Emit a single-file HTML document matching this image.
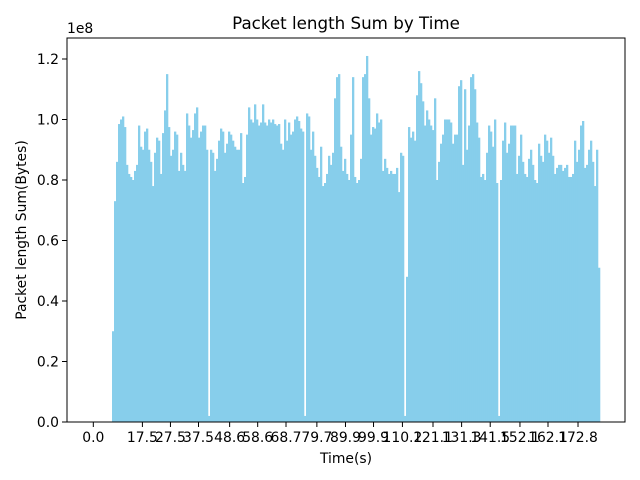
<!DOCTYPE html>
<html><head><meta charset="utf-8"><style>
html,body{margin:0;padding:0;background:#fff;}
svg{display:block;font-family:"DejaVu Sans","Liberation Sans",sans-serif;}
</style></head><body>
<svg id="chart" width="640" height="480" viewBox="0 0 640 480">
<rect width="640" height="480" fill="#fff"/>
<text x="346" y="29" font-size="16.7" text-anchor="middle">Packet length Sum by Time</text>
<text x="67" y="33" font-size="13.9">1e8</text>
<text transform="translate(26,230) rotate(-90)" font-size="13.9" text-anchor="middle">Packet length Sum(Bytes)</text>
<text x="346" y="463" font-size="13.9" text-anchor="middle">Time(s)</text>
<g id="bars"></g>
<g id="xticks"></g>
<g id="yticks"></g>
<rect x="67" y="38" width="558" height="384" fill="none" stroke="#000" stroke-width="1" shape-rendering="crispEdges"/>
</svg>
<script>
const values = [
0.30,0.73,0.86,0.985,1.0,1.01,0.975,0.85,0.82,0.81,0.80,0.83,0.85,0.98,0.91,0.9,0.96,0.97,0.9,0.86,0.78,0.89,0.94,0.93,0.82,0.955,1.03,1.15,0.975,0.88,0.9,0.96,0.95,0.83,0.89,0.85,0.83,1.02,0.98,0.94,0.965,1.02,1.04,0.94,0.96,0.98,
0.98,0.9,0.02,0.9,0.89,0.83,0.87,0.93,0.97,0.96,0.89,0.92,0.96,0.95,0.93,0.91,0.9,0.9,0.955,0.79,0.81,0.95,1.04,1.0,0.99,1.05,1.0,0.98,0.99,1.05,0.99,0.98,1.0,0.99,1.0,0.985,0.98,0.985,0.92,0.9,1.0,0.93,0.99,0.95,0.96,1.0,1.01,0.995,
0.97,0.96,0.02,1.02,1.01,0.9,0.96,0.88,0.84,0.81,0.91,0.78,0.79,0.82,0.88,0.85,0.89,1.07,1.14,1.15,0.91,0.83,0.87,0.82,0.8,0.95,1.14,0.81,0.79,0.8,0.87,1.14,1.15,1.21,1.07,0.95,0.975,0.97,1.02,0.99,1.0,0.83,0.87,0.84,0.82,0.83,0.82,
0.82,0.84,0.76,0.89,0.88,0.02,0.48,0.975,0.94,0.96,0.93,1.08,1.16,1.12,1.06,0.98,1.03,1.0,0.98,0.965,1.07,0.80,0.86,0.92,0.95,1.0,1.0,1.0,0.99,0.92,0.95,0.95,1.11,1.13,0.85,1.1,0.9,0.98,1.14,1.15,1.1,0.99,0.94,0.81,0.82,0.8,0.89,0.98,
0.96,0.91,1.0,0.79,0.02,0.8,0.93,0.99,0.89,0.92,0.98,0.98,0.98,0.82,0.88,0.95,0.86,0.82,0.81,0.87,0.9,0.85,0.8,0.79,0.92,0.88,0.86,0.95,0.93,0.89,0.94,0.88,0.82,0.84,0.85,0.85,0.83,0.84,0.85,0.81,0.81,0.82,0.93,0.86,0.9,0.98,0.995,0.84,0.85,0.9,0.93,0.86,0.78,0.9,0.51
];
const binStart = 7.02;
const binWidth = 0.713;
const xTickLabels = ["0.0","17.5","27.5","37.5","48.6","58.6","68.7","79.7","89.9","99.9","110.2","121.1","131.3","141.5","152.1","162.1","172.8"];
const yTickLabels = ["0.0","0.2","0.4","0.6","0.8","1.0","1.2"];

const NS="http://www.w3.org/2000/svg";
const X0=67,X1=625,Y0=422,Y1=38,XMIN=-9.38,XMAX=189.55,YMIN=0,YMAX=1.2694;
function xs(t){return X0+(t-XMIN)/(XMAX-XMIN)*(X1-X0);}
function ys(v){return Y0-(v-YMIN)/(YMAX-YMIN)*(Y0-Y1);}
function mk(tag,attrs){const e=document.createElementNS(NS,tag);for(const k in attrs)e.setAttribute(k,attrs[k]);return e;}

const bars=document.getElementById('bars');
values.forEach((v,i)=>{
  const t=binStart+i*binWidth;
  const xl=xs(t-binWidth/2), xr=xs(t+binWidth/2);
  const r=mk('rect',{x:xl,y:ys(v),width:xr-xl+0.3,height:ys(0)-ys(v),fill:'#87ceeb'});
  
  
  bars.appendChild(r);
});

const xg=document.getElementById('xticks');
xTickLabels.forEach(l=>{
  const x=xs(parseFloat(l));
  const ln=mk('line',{x1:x,x2:x,y1:Y0,y2:Y0+5,stroke:'#000','stroke-width':1});
  
  
  xg.appendChild(ln);
  const tx=mk('text',{x:x,y:Y0+20,'font-size':13.9,'text-anchor':'middle'});
  tx.textContent=l;
  
  
  xg.appendChild(tx);
});
const yg=document.getElementById('yticks');
yTickLabels.forEach(l=>{
  const y=ys(parseFloat(l));
  const ln=mk('line',{x1:X0-5,x2:X0,y1:y,y2:y,stroke:'#000','stroke-width':1});
  
  
  yg.appendChild(ln);
  const tx=mk('text',{x:X0-8,y:y+5,'font-size':13.9,'text-anchor':'end'});
  tx.textContent=l;
  
  
  yg.appendChild(tx);
});
</script>
</body></html>
